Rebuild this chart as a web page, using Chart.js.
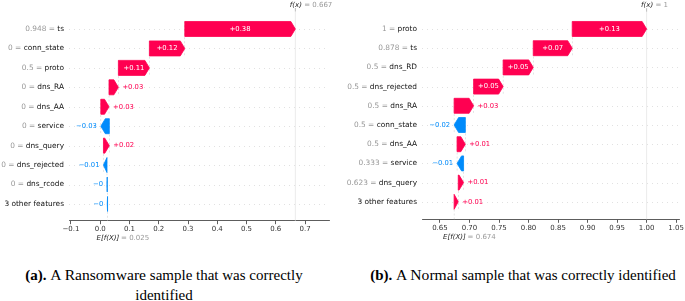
<!DOCTYPE html>
<html>
<head>
<meta charset="utf-8">
<script src="https://cdn.jsdelivr.net/npm/chart.js@4.4.1/dist/chart.umd.min.js"></script>
<style>
    html, body { margin: 0; padding: 0; background: #fff; }
    body { width: 685px; height: 301px; position: relative; overflow: hidden; }
    canvas { position: absolute; top: 0; }
    #wf-left { left: 0; }
    #wf-right { left: 340px; }
    .cap {
        position: absolute; top: 265px;
        font-family: "Liberation Serif", "Times New Roman", serif;
        font-size: 15px; line-height: 20px; color: #000;
        text-align: center; white-space: nowrap;
    }
    .cap .big { font-size: 15.6px; }
</style>
</head>
<body>
<canvas id="wf-left" width="340" height="245"></canvas>
<canvas id="wf-right" width="345" height="245"></canvas>
<div class="cap" style="left:0;width:328px"><b>(a).</b> <span class="big">A Ransomware</span> sample that was correctly<br>identified</div>
<div class="cap" style="left:323px;width:400px"><b>(b).</b> <span class="big">A Normal</span> sample that was correctly identified</div>

<script>
/* --- DATA (rows listed top to bottom) --- */

// (a) Ransomware sample
const leftFeatures = ['ts', 'conn_state', 'proto', 'dns_RA', 'dns_AA', 'service', 'dns_query', 'dns_rejected', 'dns_rcode', '3 other features'];
const leftFeatureValues = ['0.948', '0', '0.5', '0', '0', '0', '0', '0', '0', ''];
const leftShap = [0.378, 0.121, 0.106, 0.032, 0.028, -0.029, 0.020, -0.012, -0.001, -0.001];
const leftBase = 0.025;
const leftFx = 0.667;
const leftBaseLabel = '0.025';
const leftFxLabel = '0.667';
const leftTicks = [-0.1, 0, 0.1, 0.2, 0.3, 0.4, 0.5, 0.6, 0.7];
const leftTickLabels = ['\u22120.1', '0.0', '0.1', '0.2', '0.3', '0.4', '0.5', '0.6', '0.7'];

// (b) Normal sample
const rightFeatures = ['proto', 'ts', 'dns_RD', 'dns_rejected', 'dns_RA', 'conn_state', 'dns_AA', 'service', 'dns_query', '3 other features'];
const rightFeatureValues = ['1', '0.878', '0.5', '0.5', '0.5', '0.5', '0.5', '0.333', '0.623', ''];
const rightShap = [0.126, 0.066, 0.051, 0.050, 0.033, -0.019, 0.014, -0.011, 0.009, 0.007];
const rightBase = 0.674;
const rightFx = 1.0;
const rightBaseLabel = '0.674';
const rightFxLabel = '1';
const rightTicks = [0.65, 0.70, 0.75, 0.80, 0.85, 0.90, 0.95, 1.00, 1.05];
const rightTickLabels = ['0.65', '0.70', '0.75', '0.80', '0.85', '0.90', '0.95', '1.00', '1.05'];

/* --- STYLE --- */
const RED = '#ff0051';
const BLUE = '#008bfb';
const FONT = '"DejaVu Sans", Verdana, sans-serif';
const HEAD = 4.5;

// shap-style number: +0.38, -0 -> \u22120
function fmtShap(v) {
    let s = (v >= 0 ? '+' : '-') + Math.abs(v).toFixed(2);
    s = s.replace(/\.?0+$/, '');
    return s.replace('-', '\u2212');
}

function line(ctx, x0, y0, x1, y1) {
    ctx.beginPath();
    ctx.moveTo(x0, y0);
    ctx.lineTo(x1, y1);
    ctx.stroke();
}

function drawArrow(ctx, tail, tip, yc, h, color) {
    const dir = tip >= tail ? 1 : -1;
    const head = Math.min(Math.abs(tip - tail), HEAD);
    const xb = tip - dir * head;
    ctx.beginPath();
    ctx.moveTo(tail, yc - h / 2);
    ctx.lineTo(xb, yc - h / 2);
    ctx.lineTo(tip, yc);
    ctx.lineTo(xb, yc + h / 2);
    ctx.lineTo(tail, yc + h / 2);
    ctx.closePath();
    ctx.fillStyle = color;
    ctx.fill();
    ctx.lineJoin = 'round';
    ctx.lineWidth = 0.8;
    ctx.strokeStyle = color;
    ctx.stroke();
}

function makeWaterfall(canvasId, d) {
    const n = d.features.length;

    // cumulative waterfall, bottom row starts at the base value
    const rows = new Array(n);
    let cur = d.base;
    for (let i = n - 1; i >= 0; i--) {
        rows[i] = { start: cur, end: cur + d.shap[i] };
        cur += d.shap[i];
    }

    const wfPlugin = {
        id: 'wf_' + canvasId,
        beforeDatasetsDraw(chart) {
            const { ctx, chartArea: a, scales: { x, y } } = chart;
            ctx.save();
            // dotted row guides
            ctx.strokeStyle = '#cccccc';
            ctx.lineWidth = 0.6;
            ctx.setLineDash([1, 4]);
            for (let i = 0; i < n; i++) {
                const py = Math.round(y.getPixelForValue(i)) + 0.5;
                line(ctx, a.left, py, a.right, py);
            }
            // connectors between bars
            ctx.strokeStyle = '#c8c8c8';
            ctx.lineWidth = 0.5;
            ctx.setLineDash([2, 2]);
            for (let i = 0; i < n - 1; i++) {
                const px = x.getPixelForValue(rows[i].start);
                line(ctx, px, y.getPixelForValue(i - 0.4), px, y.getPixelForValue(i + 1.4));
            }
            const bp = x.getPixelForValue(d.base);
            line(ctx, bp, y.getPixelForValue(n - 1 + 0.4), bp, a.bottom);
            // f(x) line
            ctx.setLineDash([]);
            ctx.strokeStyle = '#e6e6e6';
            ctx.lineWidth = 0.8;
            const fp = x.getPixelForValue(d.fx);
            line(ctx, fp, a.top, fp, a.bottom);
            ctx.restore();
        },
        afterDatasetsDraw(chart) {
            const { ctx, chartArea: a, scales: { x, y } } = chart;
            const meta = chart.getDatasetMeta(0);
            ctx.save();

            // arrows + value texts
            ctx.textBaseline = 'middle';
            ctx.font = '6.8px ' + FONT;
            meta.data.forEach((bar, i) => {
                const p = bar.getProps(['x', 'y', 'base', 'height'], true);
                const lo = Math.min(p.x, p.base), hi = Math.max(p.x, p.base);
                const pos = d.shap[i] >= 0;
                const color = pos ? RED : BLUE;
                if (pos) drawArrow(ctx, lo, hi, p.y, p.height, color);
                else drawArrow(ctx, hi, lo, p.y, p.height, color);

                const txt = fmtShap(d.shap[i]);
                const tw = ctx.measureText(txt).width;
                if (tw < hi - lo - 1) {
                    ctx.fillStyle = '#ffffff';
                    ctx.textAlign = 'center';
                    ctx.fillText(txt, (lo + hi) / 2, p.y);
                } else if (pos) {
                    ctx.fillStyle = RED;
                    ctx.textAlign = 'left';
                    ctx.fillText(txt, hi + 4, p.y);
                } else {
                    ctx.fillStyle = BLUE;
                    ctx.textAlign = 'right';
                    ctx.fillText(txt, lo - 4, p.y);
                }
            });

            // feature labels: "value = " in gray, name in black
            ctx.font = '7.4px ' + FONT;
            ctx.textAlign = 'right';
            const rx = a.left - 5;
            for (let i = 0; i < n; i++) {
                const py = y.getPixelForValue(i);
                ctx.fillStyle = '#111111';
                ctx.fillText(d.features[i], rx, py);
                if (d.values[i] !== '') {
                    const nw = ctx.measureText(d.features[i]).width;
                    ctx.fillStyle = '#999999';
                    ctx.fillText(d.values[i] + ' = ', rx - nw, py);
                }
            }

            // f(x) label on top
            const fp = x.getPixelForValue(d.fx);
            ctx.strokeStyle = '#aaaaaa';
            ctx.lineWidth = 0.8;
            line(ctx, fp, a.top - 3.5, fp, a.top);
            ctx.textAlign = 'left';
            ctx.font = 'italic 7px ' + FONT;
            ctx.fillStyle = '#222222';
            const fxTxt = 'f(x)';
            ctx.fillText(fxTxt, fp - 5.5, 5);
            const fw = ctx.measureText(fxTxt).width;
            ctx.font = '7px ' + FONT;
            ctx.fillStyle = '#999999';
            ctx.fillText(' = ' + d.fxLabel, fp - 5.5 + fw, 5);

            // E[f(X)] label under the axis
            const bp = x.getPixelForValue(d.base);
            ctx.font = 'italic 7px ' + FONT;
            ctx.fillStyle = '#222222';
            ctx.fillText('E[f(X)]', bp - 11, a.bottom + 17.5);
            ctx.font = '7px ' + FONT;
            ctx.fillStyle = '#999999';
            ctx.fillText('= ' + d.baseLabel, bp + 13.5, a.bottom + 17.5);

            ctx.restore();
        }
    };

    return new Chart(document.getElementById(canvasId), {
        type: 'bar',
        data: {
            datasets: [{
                data: rows.map((r, i) => ({ x: [r.start, r.end], y: i })),
                backgroundColor: 'rgba(0,0,0,0)',
                borderWidth: 0,
                barThickness: 15
            }]
        },
        options: {
            indexAxis: 'y',
            responsive: false,
            animation: false,
            events: [],
            layout: { padding: { left: d.padLeft, right: d.padRight, top: d.padTop, bottom: 0 } },
            plugins: { legend: { display: false }, tooltip: { enabled: false } },
            scales: {
                y: {
                    type: 'linear', display: false, reverse: true,
                    offset: false, grid: { offset: false },
                    min: -0.9, max: d.yMax
                },
                x: {
                    type: 'linear',
                    min: d.xMin,
                    max: d.xMax,
                    afterBuildTicks: s => { s.ticks = d.ticks.map(v => ({ value: v })); },
                    afterFit: s => { s.height = d.axisH; },
                    ticks: {
                        callback: (v, i) => d.tickLabels[i],
                        color: '#333333',
                        font: { family: FONT, size: 7 },
                        padding: 1,
                        maxRotation: 0,
                        autoSkip: false
                    },
                    grid: { drawOnChartArea: false, drawTicks: true, tickLength: 3.5, color: '#333333', lineWidth: 0.8 },
                    border: { display: true, color: '#333333', width: 0.8 }
                }
            }
        },
        plugins: [wfPlugin]
    });
}

makeWaterfall('wf-left', {
    features: leftFeatures, values: leftFeatureValues, shap: leftShap,
    base: leftBase, fx: leftFx, baseLabel: leftBaseLabel, fxLabel: leftFxLabel,
    ticks: leftTicks, tickLabels: leftTickLabels,
    xMin: -0.1068, xMax: 0.782, yMax: 9.86,
    padLeft: 69, padRight: 11, padTop: 11.5, axisH: 24.3
});

makeWaterfall('wf-right', {
    features: rightFeatures, values: rightFeatureValues, shap: rightShap,
    base: rightBase, fx: rightFx, baseLabel: rightBaseLabel, fxLabel: rightFxLabel,
    ticks: rightTicks, tickLabels: rightTickLabels,
    xMin: 0.6196, xMax: 1.055, yMax: 9.91,
    padLeft: 82, padRight: 5, padTop: 11.7, axisH: 25.7
});
</script>
</body>
</html>
